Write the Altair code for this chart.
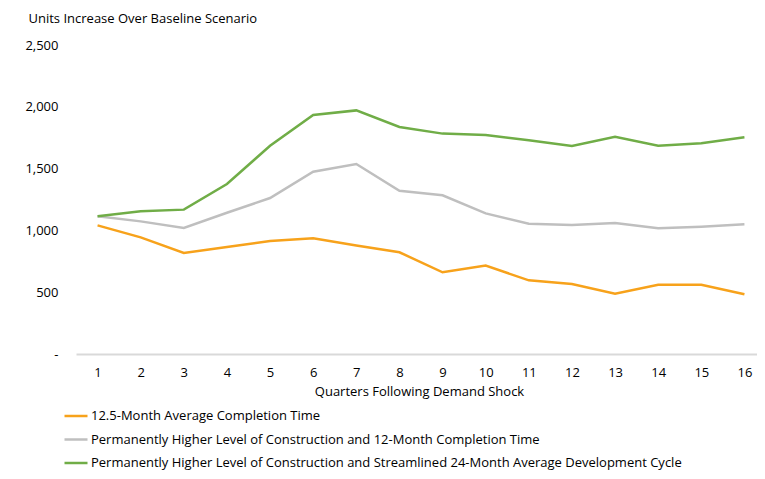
import altair as alt
import pandas as pd

quarters = list(range(1, 17))
series_names = [
    "12.5-Month Average Completion Time",
    "Permanently Higher Level of Construction and 12-Month Completion Time",
    "Permanently Higher Level of Construction and Streamlined 24-Month Average Development Cycle",
]
orange_vals = [1041, 944, 817, 866, 914, 936, 877, 823, 661, 715, 596, 566, 488, 561, 561, 483]
gray_vals = [1115, 1073, 1019, 1143, 1262, 1475, 1537, 1321, 1284, 1138, 1054, 1044, 1060, 1017, 1030, 1049]
green_vals = [1115, 1154, 1168, 1375, 1685, 1934, 1971, 1837, 1783, 1772, 1729, 1683, 1758, 1685, 1705, 1753]
colors = ["#F7A21B", "#BFBFBF", "#70AD47"]

rows = []
for name, vals in zip(series_names, [orange_vals, gray_vals, green_vals]):
    for q, v in zip(quarters, vals):
        rows.append({"Quarter": q, "Value": v, "Series": name})
df = pd.DataFrame(rows)

FONT = "Open Sans"

chart = alt.Chart(df).mark_line(strokeWidth=2.5).encode(
    x=alt.X("Quarter:O",
            scale=alt.Scale(paddingInner=0, paddingOuter=0, range=[0, 690]),
            axis=alt.Axis(title="Quarters Following Demand Shock", labelAngle=0,
                          ticks=False, domainColor="#D9D9D9", domainWidth=2,
                          labelPadding=12, titlePadding=6, labelFontSize=13,
                          titleFontSize=13, titleFontWeight="normal",
                          titleX=343, titleAnchor="middle",
                          labelColor="#000000", titleColor="#000000")),
    y=alt.Y("Value:Q",
            scale=alt.Scale(domain=[0, 2500]),
            axis=alt.Axis(values=[0, 500, 1000, 1500, 2000, 2500],
                          labelExpr="datum.value == 0 ? '-' : format(datum.value, ',')",
                          grid=False, domain=False, ticks=False, labelPadding=18,
                          labelFontSize=13, labelColor="#000000",
                          title="Units Increase Over Baseline Scenario",
                          titleAngle=0, titleAlign="left", titleBaseline="middle",
                          titleX=-48, titleY=-27, titleFontSize=13,
                          titleFontWeight="normal", titleColor="#000000")),
    color=alt.Color("Series:N",
                    scale=alt.Scale(domain=series_names, range=colors),
                    sort=series_names,
                    legend=alt.Legend(title=None, orient="none", legendX=-13, legendY=358,
                                      symbolType="stroke", symbolSize=529,
                                      symbolStrokeWidth=2.5, labelFontSize=13,
                                      labelColor="#000000", labelOffset=2,
                                      rowPadding=3.5, labelLimit=800)),
).properties(
    width=681, height=309,
    autosize=alt.AutoSizeParams(type="none"),
    padding={"left": 68, "top": 37, "right": 0, "bottom": 117},
).configure(font=FONT).configure_view(stroke=None)

chart.save("out.html", embed_options={"renderer": "svg", "actions": False})
